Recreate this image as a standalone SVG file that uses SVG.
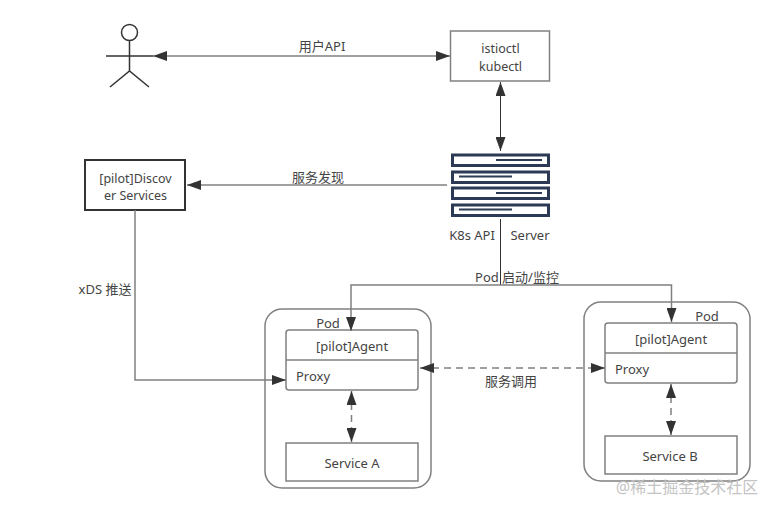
<svg xmlns="http://www.w3.org/2000/svg" width="775" height="513" viewBox="0 0 775 513">
<style>
text{font-family:"Noto Sans","Noto Sans CJK SC",sans-serif;font-size:13px;fill:#444;text-anchor:middle}
.two{font-size:12.5px}
.box{fill:#fff;stroke:#808080;stroke-width:1.5}
.conn{fill:none;stroke:#808080;stroke-width:1.5}
.dash{stroke-dasharray:7 5}
.dark{fill:none;stroke:#333;stroke-width:1.5}
.srv{fill:#fff;stroke:#2c3a55;stroke-width:3}
.bar{stroke:#2c3a55;stroke-width:2}
</style>
<defs>
<marker id="a" markerUnits="userSpaceOnUse" markerWidth="16" markerHeight="10" refX="14" refY="5" orient="auto-start-reverse"><path d="M0 0L14 5L0 10Z" fill="#333"/></marker>
</defs>
<rect width="775" height="513" fill="#fff"/>
<g id="pod-a">
<rect class="box" x="265" y="309" width="166" height="179" rx="17"/>
<text x="328" y="328">Pod</text>
</g>
<g id="pod-b">
<rect class="box" x="584" y="302" width="166" height="179" rx="17"/>
<text x="707" y="321">Pod</text>
</g>
<g id="actor">
<circle cx="129.500" cy="32.500" r="8" fill="#fff" stroke="#333" stroke-width="1.500"/>
<path class="dark" d="M129.500 41V71M106 56H153M110 87L129.500 71L149 87"/>
</g>
<g id="cli">
<rect class="box" x="450.500" y="31" width="99" height="50"/>
<text class="two" x="500.500" y="53">istioctl</text>
<text class="two" x="500.500" y="70.500">kubectl</text>
</g>
<g id="discover">
<rect x="85" y="160" width="100" height="50" fill="#fff" stroke="#333" stroke-width="2"/>
<text class="two" x="135.500" y="182.500">[pilot]Discov</text>
<text class="two" x="135.500" y="200">er Services</text>
</g>
<g id="k8s-api">
<rect class="srv" x="452.500" y="155" width="96" height="10.500"/>
<rect class="srv" x="452.500" y="172" width="96" height="10.500"/>
<rect class="srv" x="452.500" y="188" width="96" height="10.500"/>
<rect class="srv" x="452.500" y="205" width="96" height="10.500"/>
<path class="bar" d="M496 160H542M459 176.500H512M496 193H542M459 209.500H512"/>
<text x="472" y="240">K8s API</text>
<text x="530" y="240">Server</text>
</g>
<g id="agent-a">
<rect class="box" x="286" y="330" width="132" height="60" rx="3"/>
<path class="conn" d="M286 360H418"/>
<text x="352" y="351">[pilot]Agent</text>
<text x="313" y="381">Proxy</text>
</g>
<g id="service-a">
<rect class="box" x="286" y="443" width="132" height="38"/>
<text x="352" y="468">Service A</text>
</g>
<g id="agent-b">
<rect class="box" x="605" y="323" width="132" height="60" rx="3"/>
<path class="conn" d="M605 353H737"/>
<text x="671" y="344">[pilot]Agent</text>
<text x="632" y="374">Proxy</text>
</g>
<g id="service-b">
<rect class="box" x="605" y="436" width="132" height="38"/>
<text x="670" y="461">Service B</text>
</g>
<g id="connectors">
<path class="conn" d="M153 56H450" marker-start="url(#a)" marker-end="url(#a)"/>
<path d="M500.500 82V151" fill="none" stroke="#333" stroke-width="1" marker-start="url(#a)" marker-end="url(#a)"/>
<path class="conn" d="M447 185H187" marker-end="url(#a)"/>
<path d="M500.500 219V285" fill="none" stroke="#333" stroke-width="1"/>
<path class="conn" d="M500.500 285H351V331" marker-end="url(#a)"/>
<path class="conn" d="M500.500 285H671.500V322" marker-end="url(#a)"/>
<path class="conn" d="M135 210V380H286" marker-end="url(#a)"/>
<path class="conn dash" d="M420 368H605" marker-start="url(#a)" marker-end="url(#a)"/>
<path class="conn dash" d="M351.500 391V442" marker-start="url(#a)" marker-end="url(#a)"/>
<path class="conn dash" d="M671 384V435" marker-start="url(#a)" marker-end="url(#a)"/>
</g>
<g id="labels">
<text x="322" y="51">用户API</text>
<text x="318" y="182">服务发现</text>
<text x="105" y="294">xDS 推送</text>
<text x="517" y="282">Pod 启动/监控</text>
<text x="511" y="386">服务调用</text>
</g>
<text x="687" y="493" style="font-size:16px;fill:#c4c4c4">@稀土掘金技术社区</text>
</svg>
